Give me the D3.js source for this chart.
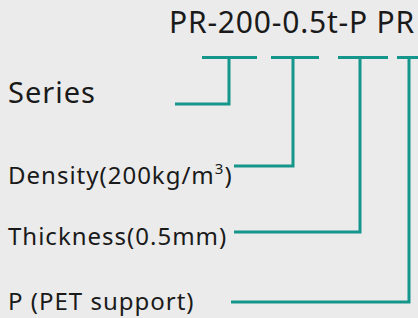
<!DOCTYPE html>
<html>
<head>
<meta charset="utf-8">
<script src="https://cdn.jsdelivr.net/npm/d3@7"></script>
<style>
  html, body { margin: 0; padding: 0; background: #ebebeb; }
  svg { display: block; }
  text { font-family: "Noto Sans", sans-serif; fill: #1a1a1a; }
</style>
</head>
<body>
<div id="chart"></div>
<script>
// code string and the parts it is made of
const codeTitle = 'PR-200-0.5t-P PR';
const codeParts = ['PR', '200', '0.5t', 'P'];
const partLabels = ['Series', 'Density(200kg/m', 'Thickness(0.5mm)', 'P (PET support)'];
const labelSup = ['', '3', '', ''];

const width = 418, height = 318;
const lineColor = '#14968c';

// layout (pixels)
const barY = 57.5;
const barX0 = [202, 271, 338, 397];
const barX1 = [257, 319, 388, 430];
const stemX = [229, 293, 360, 409];
const rowY = [104, 166, 232, 302];
const lineEnd = [175, 234, 234, 231];
const textY = [103, 184, 245, 310];
const textSize = [29, 24, 24, 24];

const svg = d3.select('#chart').append('svg')
    .attr('width', width)
    .attr('height', height);

svg.append('text')
    .attr('x', 169)
    .attr('y', 33)
    .style('font-size', '30px')
    .style('letter-spacing', '0.8px')
    .text(codeTitle);

const g = svg.selectAll('g.part')
    .data(codeParts)
    .enter().append('g')
    .attr('class', 'part');

// bracket: bar under code, down to the label row, then left to the label
g.append('path')
    .attr('d', (d, i) => {
        const p = d3.path();
        p.moveTo(barX0[i], barY);
        p.lineTo(barX1[i], barY);
        p.moveTo(stemX[i], barY);
        p.lineTo(stemX[i], rowY[i]);
        p.lineTo(lineEnd[i], rowY[i]);
        return p.toString();
    })
    .attr('fill', 'none')
    .attr('stroke', lineColor)
    .attr('stroke-width', 3);

const lbl = g.append('text')
    .attr('x', 8)
    .attr('y', (d, i) => textY[i])
    .style('font-size', (d, i) => textSize[i] + 'px')
    .style('letter-spacing', '1px')
    .text((d, i) => partLabels[i]);

lbl.filter((d, i) => labelSup[i] !== '')
    .each(function(d) {
        const i = codeParts.indexOf(d);
        const t = d3.select(this);
        t.append('tspan')
            .attr('dy', -10)
            .style('font-size', '15px')
            .text(labelSup[i]);
        t.append('tspan')
            .attr('dy', 10)
            .text(')');
    });
</script>
</body>
</html>
